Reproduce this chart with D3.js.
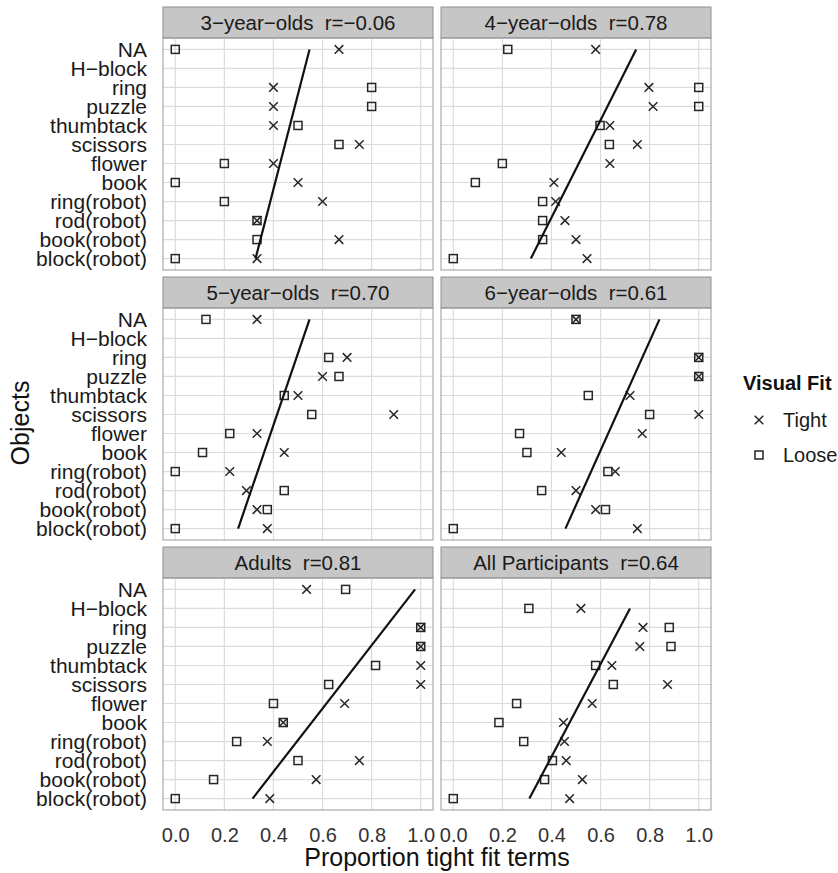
<!DOCTYPE html>
<html>
<head>
<meta charset="utf-8">
<title>Proportion tight fit terms by object</title>
<script src="https://cdn.jsdelivr.net/npm/d3@7"></script>
<style>
  body { margin: 0; background: #fff; }
  svg { display: block; font-family: 'Liberation Sans', Arial, Helvetica, sans-serif; }
</style>
</head>
<body>
<div id="chart"></div>
<script>
// Categories on the y axis, top to bottom
const objects = ['NA', 'H\u2212block', 'ring', 'puzzle', 'thumbtack', 'scissors', 'flower',
  'book', 'ring(robot)', 'rod(robot)', 'book(robot)', 'block(robot)'];

const panelTitles = [
  '3\u2212year\u2212olds  r=\u22120.06',
  '4\u2212year\u2212olds  r=0.78',
  '5\u2212year\u2212olds  r=0.70',
  '6\u2212year\u2212olds  r=0.61',
  'Adults  r=0.81',
  'All Participants  r=0.64'
];

// Proportion of tight fit terms, one value per object (null = no data)
const tight3 = [0.667, null, 0.4, 0.4, 0.4, 0.75, 0.4, 0.5, 0.6, 0.333, 0.667, 0.333];
const loose3 = [0, null, 0.8, 0.8, 0.5, 0.667, 0.2, 0, 0.2, 0.333, 0.333, 0];
const tight4 = [0.58, null, 0.797, 0.814, 0.638, 0.75, 0.638, 0.41, 0.417, 0.455, 0.5, 0.545];
const loose4 = [0.222, null, 1, 1, 0.598, 0.636, 0.2, 0.09, 0.364, 0.364, 0.364, 0];
const tight5 = [0.333, null, 0.70, 0.60, 0.50, 0.89, 0.333, 0.444, 0.222, 0.29, 0.333, 0.375];
const loose5 = [0.125, null, 0.625, 0.667, 0.444, 0.556, 0.222, 0.111, 0, 0.444, 0.375, 0];
const tight6 = [0.5, null, 1, 1, 0.72, 1, 0.77, 0.44, 0.66, 0.5, 0.58, 0.75];
const loose6 = [0.5, null, 1, 1, 0.55, 0.80, 0.27, 0.30, 0.63, 0.36, 0.62, 0];
const tightAdults = [0.535, null, 1, 1, 1, 1, 0.69, 0.44, 0.375, 0.75, 0.574, 0.385];
const looseAdults = [0.694, null, 1, 1, 0.816, 0.625, 0.40, 0.44, 0.25, 0.50, 0.156, 0];
const tightAll = [null, 0.52, 0.773, 0.76, 0.646, 0.873, 0.566, 0.449, 0.453, 0.46, 0.526, 0.474];
const looseAll = [null, 0.308, 0.88, 0.887, 0.58, 0.652, 0.258, 0.186, 0.287, 0.404, 0.372, 0];

// Fitted line per panel: value at block(robot) and at the top object
const fitBottom = [0.327, 0.316, 0.256, 0.457, 0.315, 0.31];
const fitTop = [0.547, 0.745, 0.547, 0.84, 0.977, 0.72];
const fitTopObject = ['NA', 'NA', 'NA', 'NA', 'NA', 'H\u2212block'];

const xTicks = [0, 0.2, 0.4, 0.6, 0.8, 1.0];
const legendLabels = ['Tight', 'Loose'];

const tightValues = [tight3, tight4, tight5, tight6, tightAdults, tightAll];
const looseValues = [loose3, loose4, loose5, loose6, looseAdults, looseAll];

// Layout
const W = 838, H = 873;
const panelW = 270, stripH = 31, bodyH = 232;
const colX = [163, 441];
const rowY = [7, 277, 547];
const ink = '#262626';

const svg = d3.select('#chart')
  .append('svg')
  .attr('width', W)
  .attr('height', H);

const x = d3.scaleLinear().domain([-0.05, 1.05]).range([0, panelW]);
const y = d3.scalePoint().domain(objects).range([0, bodyH]).padding(0.6);

function drawTight(g, px, py) {
  g.append('path')
    .attr('d', `M${px - 4.3},${py - 4.3}L${px + 4.3},${py + 4.3}M${px - 4.3},${py + 4.3}L${px + 4.3},${py - 4.3}`)
    .attr('stroke', ink)
    .attr('stroke-width', 1.5)
    .attr('fill', 'none');
}

function drawLoose(g, px, py) {
  g.append('rect')
    .attr('x', px - 4)
    .attr('y', py - 4)
    .attr('width', 8)
    .attr('height', 8)
    .attr('stroke', ink)
    .attr('stroke-width', 1.5)
    .attr('fill', 'none');
}

panelTitles.forEach((title, i) => {
  const col = i % 2, row = Math.floor(i / 2);
  const g = svg.append('g')
    .attr('transform', `translate(${colX[col]},${rowY[row]})`);

  // strip
  g.append('rect')
    .attr('width', panelW)
    .attr('height', stripH)
    .attr('fill', '#c6c6c6')
    .attr('stroke', '#8f8f8f')
    .attr('stroke-width', 1);

  g.append('text')
    .attr('x', panelW / 2)
    .attr('y', stripH / 2)
    .attr('dy', '0.36em')
    .attr('text-anchor', 'middle')
    .attr('font-size', '20.5px')
    .attr('fill', '#1a1a1a')
    .style('white-space', 'pre')
    .text(title);

  const body = g.append('g')
    .attr('transform', `translate(0,${stripH})`);

  // grid
  body.selectAll('.vgrid')
    .data(xTicks)
    .join('line')
    .attr('x1', d => x(d)).attr('x2', d => x(d))
    .attr('y1', 0).attr('y2', bodyH)
    .attr('stroke', '#dcdcdc')
    .attr('stroke-width', 1.2);

  body.selectAll('.hgrid')
    .data(objects)
    .join('line')
    .attr('x1', 0).attr('x2', panelW)
    .attr('y1', d => y(d)).attr('y2', d => y(d))
    .attr('stroke', '#dcdcdc')
    .attr('stroke-width', 1.2);

  // points
  objects.forEach((obj, j) => {
    const t = tightValues[i][j];
    const l = looseValues[i][j];
    if (t !== null) drawTight(body, x(t), y(obj));
    if (l !== null) drawLoose(body, x(l), y(obj));
  });

  // fitted line
  body.append('line')
    .attr('x1', x(fitBottom[i]))
    .attr('y1', y('block(robot)'))
    .attr('x2', x(fitTop[i]))
    .attr('y2', y(fitTopObject[i]))
    .attr('stroke', '#111')
    .attr('stroke-width', 2.2);

  // panel border
  body.append('rect')
    .attr('width', panelW)
    .attr('height', bodyH)
    .attr('fill', 'none')
    .attr('stroke', '#9a9a9a')
    .attr('stroke-width', 1);

  // y axis labels on the left column
  if (col === 0) {
    const yAxis = body.append('g')
      .call(d3.axisLeft(y).tickSize(0).tickPadding(16));
    yAxis.select('.domain').remove();
    yAxis.selectAll('text')
      .attr('font-size', '21px')
      .attr('font-family', null)
      .attr('fill', '#1a1a1a');
  }

  // x axis labels on the bottom row
  if (row === 2) {
    const xAxis = body.append('g')
      .attr('transform', `translate(0,${bodyH})`)
      .call(d3.axisBottom(x).tickValues(xTicks).tickFormat(d3.format('.1f')).tickSize(0).tickPadding(18));
    xAxis.select('.domain').remove();
    xAxis.selectAll('text')
      .attr('font-size', '20px')
      .attr('font-family', null)
      .attr('fill', '#333');
  }
});

// axis titles
svg.append('text')
  .attr('x', (colX[0] + colX[1] + panelW) / 2)
  .attr('y', 866)
  .attr('text-anchor', 'middle')
  .attr('font-size', '25px')
  .attr('fill', '#111')
  .text('Proportion tight fit terms');

svg.append('text')
  .attr('transform', 'translate(29,423) rotate(-90)')
  .attr('text-anchor', 'middle')
  .attr('font-size', '25px')
  .attr('fill', '#111')
  .text('Objects');

// legend
const legend = svg.append('g')
  .attr('transform', 'translate(743,0)');

legend.append('text')
  .attr('x', 0)
  .attr('y', 390)
  .attr('font-size', '20px')
  .attr('font-weight', 'bold')
  .attr('fill', '#111')
  .text('Visual Fit');

const keyY = [420, 455];
legendLabels.forEach((label, i) => {
  if (i === 0) drawTight(legend, 16, keyY[i]);
  else drawLoose(legend, 16, keyY[i]);
  legend.append('text')
    .attr('x', 40)
    .attr('y', keyY[i])
    .attr('dy', '0.35em')
    .attr('font-size', '20px')
    .attr('fill', '#1a1a1a')
    .text(label);
});
</script>
</body>
</html>
